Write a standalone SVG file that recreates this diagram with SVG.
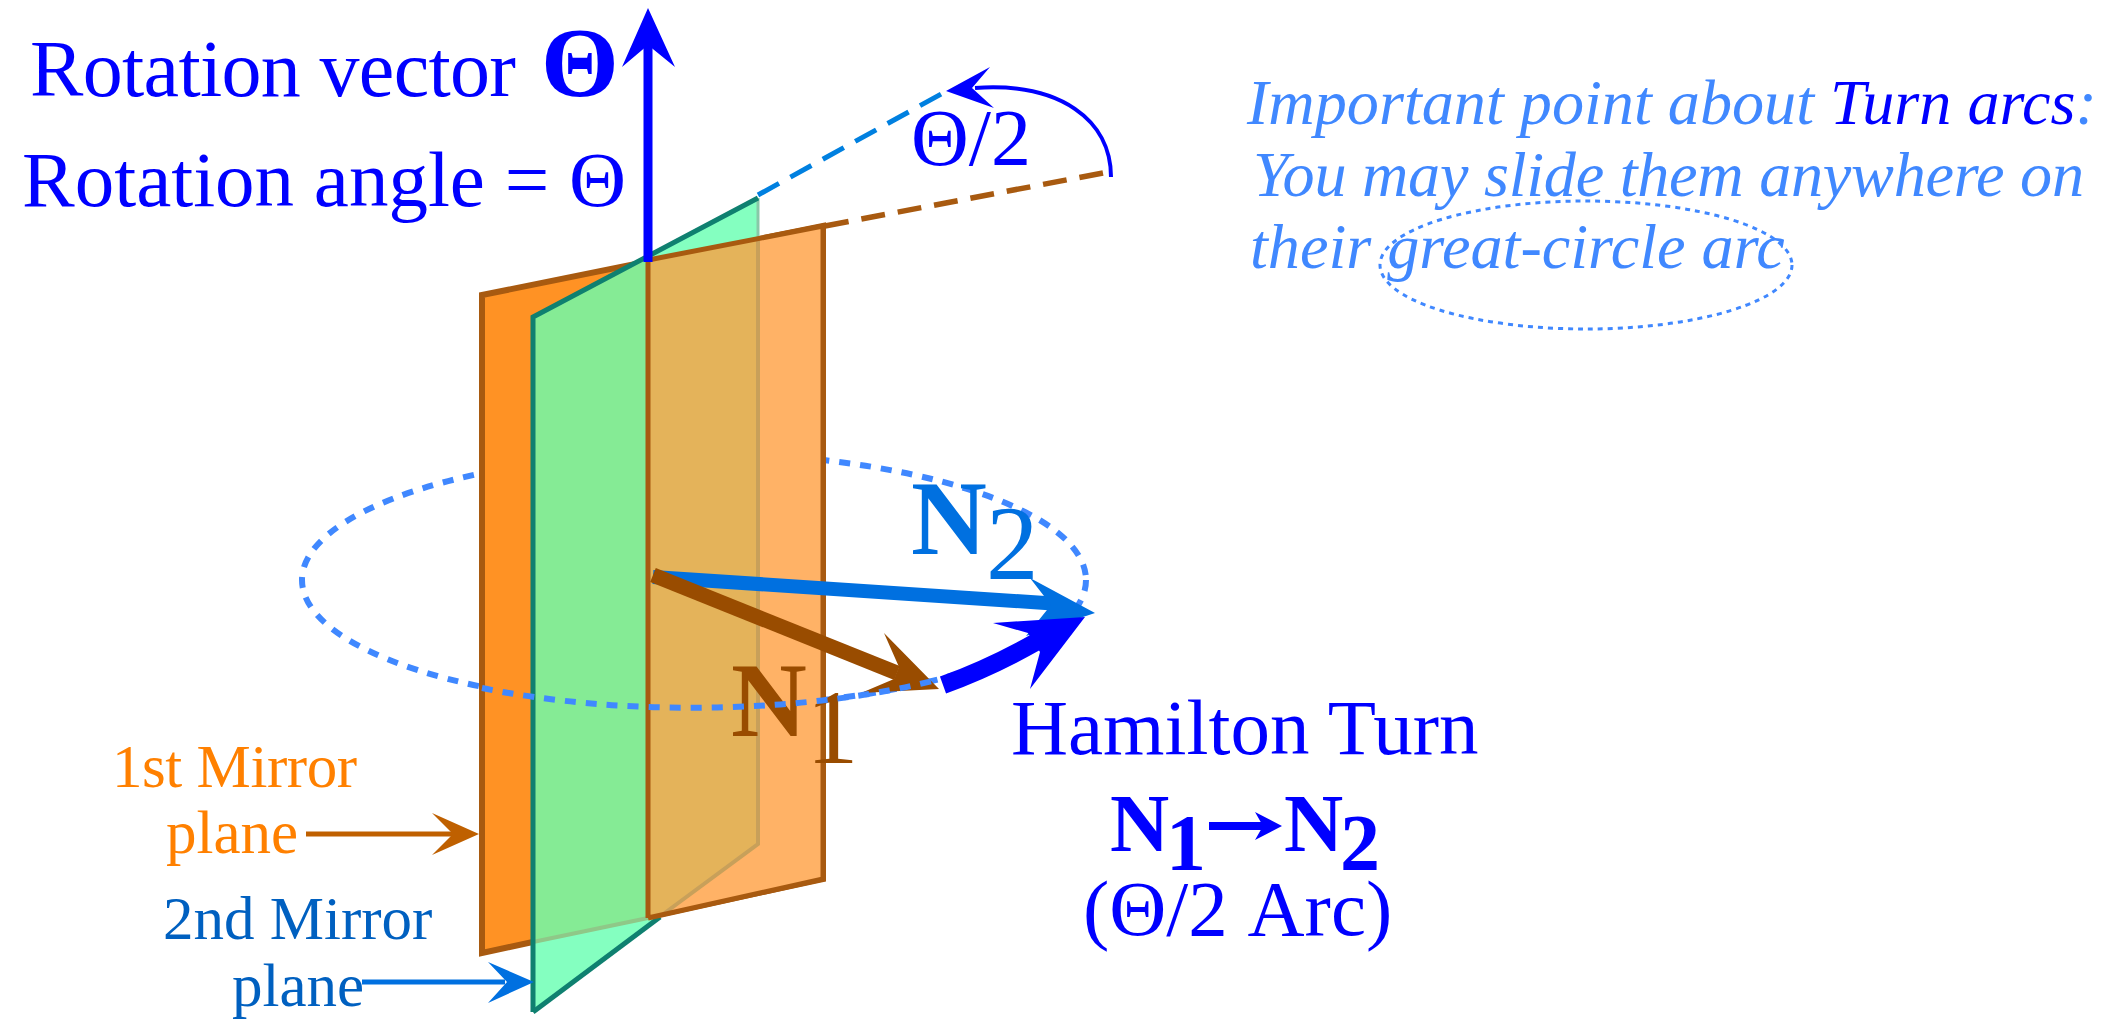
<svg xmlns="http://www.w3.org/2000/svg" width="2127" height="1021" viewBox="0 0 2127 1021">
<style>
text{font-family:"Liberation Serif","Times New Roman",serif}
.b{fill:#0000ff}
.note{fill:#4088ff;font-style:italic;font-size:64.2px}
.el{fill:none;stroke:#4088ff}
.big{font-size:105px}
.lab{font-size:61px}
.org{fill:#ff8000}
.blu{fill:#0060c0}
.t79{font-size:79px}
.edge{fill:none;stroke:#a85a10}
.gedge{fill:none;stroke:#0f8070}
</style>
<rect width="2127" height="1021" fill="#fff"/>
<g id="great-circle-back"><ellipse class="el" cx="694" cy="580" rx="392" ry="127" stroke-width="6" stroke-dasharray="11 10"/></g>
<g id="mirror1">
<path d="M482,295L823,226V879L482,953Z" fill="#ff9224" stroke="#a85a10" stroke-width="6"/>
</g>
<g id="mirror2">
<path d="M533,317L648,258V918L533,942Z" fill="#85eb95"/>
<path d="M533,942V1012L660,917L648,918Z" fill="#84ffc0"/>
<path d="M648,258L758,198V239Z" fill="#84ffc0"/>
<path d="M533,942L648,918" fill="none" stroke="#8fc888" stroke-width="4"/>
<path d="M758,198V239" fill="none" stroke="#88c8a8" stroke-width="3"/>
<path d="M533,1012V317L758,198" class="gedge" stroke-width="5"/>
<path d="M533,1012L660,917" class="gedge" stroke-width="5"/>
</g>
<g id="mirror1-front">
<path d="M648,260L823,226V879L648,918Z" fill="#ffb266"/>
<path d="M648,260L758,239V844L662,915L648,918Z" fill="#e4b35a"/>
<path d="M758,239V844L662,915" fill="none" stroke="#c8a05a" stroke-width="4"/>
<path d="M648,918V260L823,226V879L648,918" class="edge" stroke-width="5"/>
</g>
<g id="connectors">
<path d="M825,226L1108,172" stroke="#a85a10" stroke-width="5.5" stroke-dasharray="24 13" fill="none"/>
<path d="M758,195L943,93" stroke="#0080e0" stroke-width="5" stroke-dasharray="24 13" fill="none"/>
<path d="M648,262V45" stroke="#0000ff" stroke-width="9" fill="none"/>
<path d="M648,8L675,67L648,45L622,67Z" fill="#0000ff"/>
<path d="M1111,177C1111,120 1060,82 975,88" stroke="#0000ff" stroke-width="4" fill="none"/>
<path d="M946,91L990,67L972,88L994,108Z" fill="#0000ff"/>
<path d="M653,577L1060,604" stroke="#0070e0" stroke-width="14" fill="none"/>
<path d="M1095,613L1030,578L1051,605L1026,636Z" fill="#0070e0"/>
<path d="M653,575L897,673" stroke="#994c00" stroke-width="15" fill="none"/>
<path d="M939,689L884,633L899,667L894,679L861,693Z" fill="#994c00"/>
<path d="M943,685Q990,668 1036,642" stroke="#0000ff" stroke-width="18" fill="none"/>
<path d="M1085,617L993,623L1028,633L1040,652L1030,689Z" fill="#0000ff"/>
<path d="M306,834H455" stroke="#bf6000" stroke-width="5" fill="none"/>
<path d="M479,834L432,813L453,834L432,855Z" fill="#bf6000"/>
<path d="M362,982H505" stroke="#0070e0" stroke-width="5" fill="none"/>
<path d="M534,982L488,962L507,982L488,1003Z" fill="#0070e0"/>
<path d="M1209,826H1268" stroke="#0000ff" stroke-width="8" fill="none"/>
<path d="M1282,826L1255,812L1263,826L1255,840Z" fill="#0000ff"/>
</g>
<g id="labels">
<text x="30" y="96" class="b" font-size="80" textLength="486">Rotation vector</text>
<text x="541" y="96" class="b" font-size="100" font-weight="bold">Θ</text>
<text x="22" y="206" class="b t79">Rotation angle = Θ</text>
<text x="911" y="165" class="b" font-size="80">Θ/2</text>
<text x="911" y="554" class="big" font-weight="bold" fill="#0070e0">N</text>
<text x="986" y="579" class="big" fill="#0070e0">2</text>
<text x="731" y="736" class="big" font-weight="bold" fill="#994c00">N</text>
<text x="806" y="763" class="big" fill="#994c00">1</text>
<text x="112" y="787" class="lab org" textLength="245">1st Mirror</text>
<text x="166" y="853" class="lab org">plane</text>
<text x="163" y="939" class="lab blu">2nd Mirror</text>
<text x="232" y="1006" class="lab blu">plane</text>
<text x="1011" y="754" class="b t79">Hamilton Turn</text>
<text x="1110" y="851" class="b" font-size="82" font-weight="bold">N</text>
<text x="1166" y="870" class="b" font-size="80" font-weight="bold">1</text>
<text x="1284" y="851" class="b" font-size="82" font-weight="bold">N</text>
<text x="1340" y="870" class="b" font-size="80" font-weight="bold">2</text>
<text x="1083" y="935" class="b t79">(Θ/2 Arc)</text>
</g>
<g id="great-circle-front"><path d="M482,688A392,127 0 0 0 940,679" class="el" stroke-width="6" stroke-dasharray="11 10"/></g>
<g id="note">
<text x="1247" y="124" class="note">Important point about <tspan fill="#0000ff">Turn arcs</tspan>:</text>
<text x="1253" y="196" class="note" textLength="831">You may slide them anywhere on</text>
<text x="1250" y="268" class="note">their great-circle arc</text>
<ellipse class="el" cx="1586" cy="265" rx="206" ry="64" stroke-width="3" stroke-dasharray="5 5"/>
</g>
</svg>
